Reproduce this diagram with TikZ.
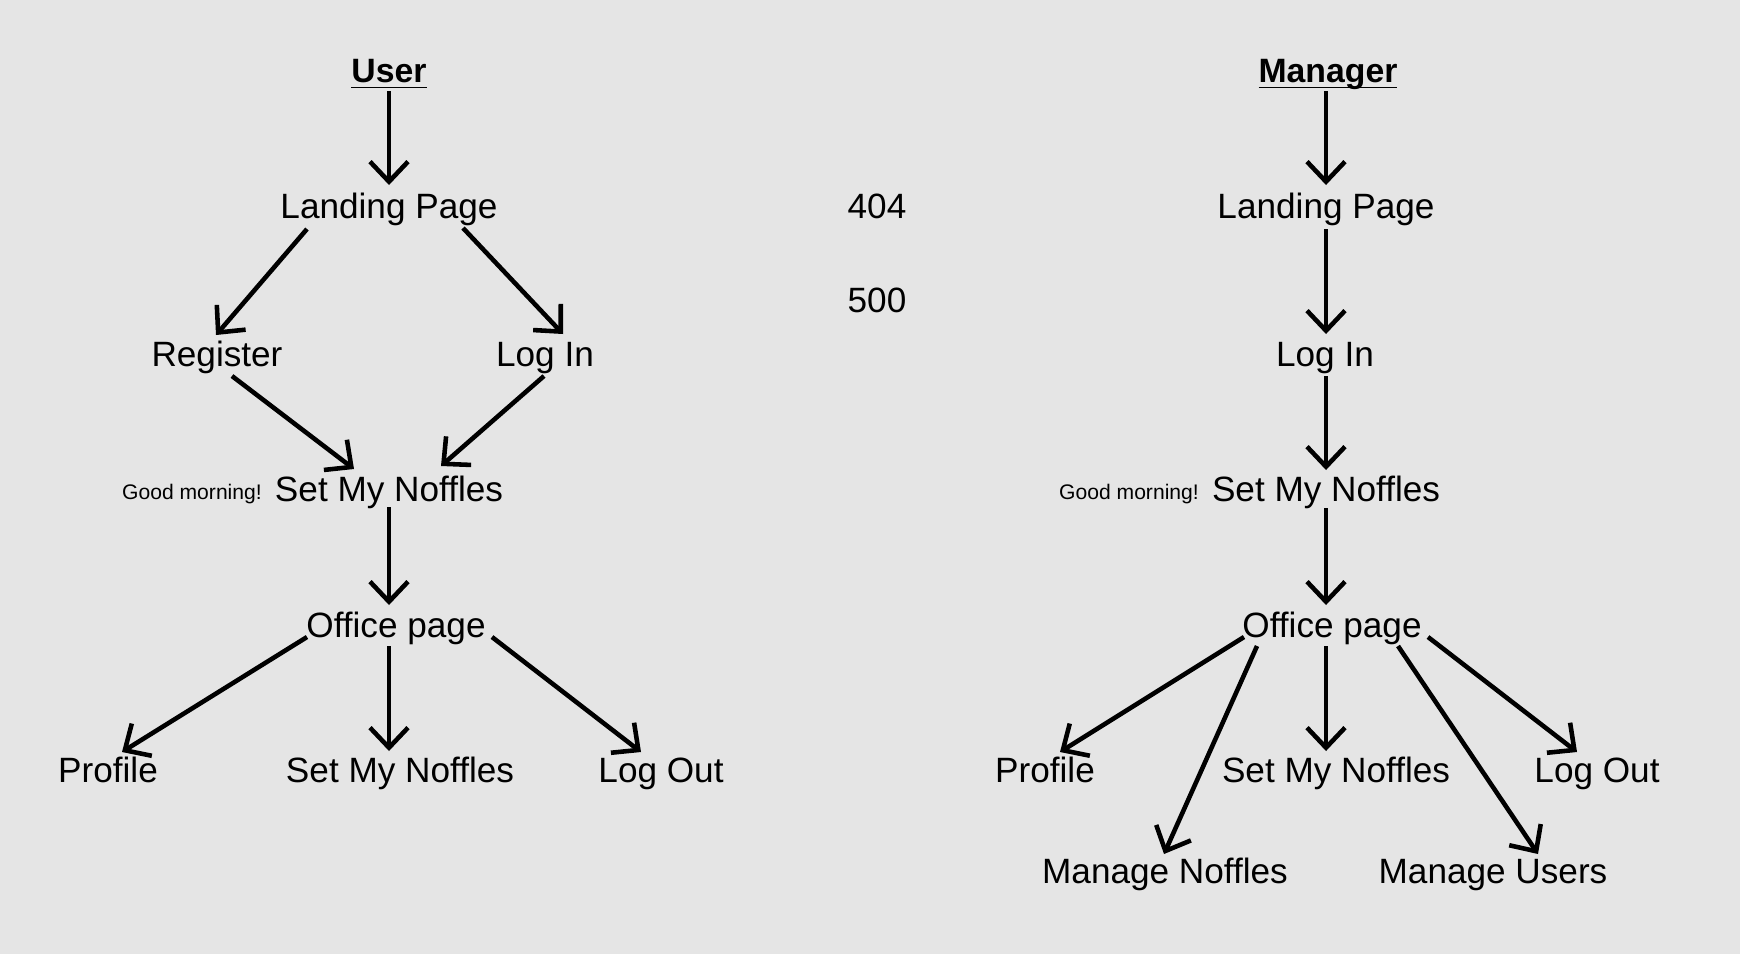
\documentclass[tikz,border=0pt]{standalone}
\usepackage{fontspec}
\setmainfont{Liberation Sans}
\usetikzlibrary{arrows.meta}
\begin{document}
\begin{tikzpicture}[
  x=0.01cm, y=-0.01cm,
  every node/.style={inner sep=0pt, text height=7.2pt, text depth=0pt, font=\fontsize{10}{12}\selectfont},
  head/.style={font=\fontsize{9.6}{12}\selectfont\bfseries},
  small/.style={font=\fontsize{6}{7}\selectfont, text height=4.3pt},
  arr/.style={line width=1.3pt, -{Straight Barb[length=5.7pt, width=10.8pt]}}
]
\fill[black!10] (0,0) rectangle (1740,954);

% user side
\node[head] (uuser) at (389,70) {\underline{\smash{User}}};
\node (ulp) at (389,206) {Landing Page};
\node (ureg) at (217,354) {Register};
\node (ulog) at (545,354) {Log In};
\node (uset) at (389,489) {Set My Noffles};
\node[small] (ugm) at (192,492) {Good morning!};
\node (uoff) at (396,625) {Office page};
\node (uprof) at (108,770) {Profile};
\node (uset2) at (400,770) {Set My Noffles};
\node (uout) at (661,770) {Log Out};

% error pages
\node (e404) at (877,206) {404};
\node (e500) at (877,300) {500};

% manager side
\node[head] (muser) at (1328,70) {\underline{\smash{Manager}}};
\node (mlp) at (1326,206) {Landing Page};
\node (mlog) at (1325,354) {Log In};
\node (mset) at (1326,489) {Set My Noffles};
\node[small] (mgm) at (1129,492) {Good morning!};
\node (moff) at (1332,625) {Office page};
\node (mprof) at (1045,770) {Profile};
\node (mset2) at (1336,770) {Set My Noffles};
\node (mout) at (1597,770) {Log Out};
\node (mmn) at (1165,871) {Manage Noffles};
\node (mmu) at (1493,871) {Manage Users};

% user arrows
\draw[arr] ([shift={(0,21)}]uuser.center) -- ([shift={(0,-21)}]ulp.center);
\draw[arr] ([shift={(-82,23)}]ulp.center) -- ([shift={(-1,-19)}]ureg.center);
\draw[arr] ([shift={(74,22)}]ulp.center) -- ([shift={(18,-20)}]ulog.center);
\draw[arr] ([shift={(15,22)}]ureg.center) -- ([shift={(-35,-20)}]uset.center);
\draw[arr] ([shift={(-1,22)}]ulog.center) -- ([shift={(52,-23)}]uset.center);
\draw[arr] ([shift={(0,18)}]uset.center) -- ([shift={(-7,-20)}]uoff.center);
\draw[arr] ([shift={(-89,12)}]uoff.center) -- ([shift={(14,-18)}]uprof.center);
\draw[arr] ([shift={(-7,21)}]uoff.center) -- ([shift={(-11,-19)}]uset2.center);
\draw[arr] ([shift={(96,12)}]uoff.center) -- ([shift={(-20,-18)}]uout.center);

% manager arrows
\draw[arr] ([shift={(-2,21)}]muser.center) -- ([shift={(0,-21)}]mlp.center);
\draw[arr] ([shift={(0,23)}]mlp.center) -- ([shift={(1,-20)}]mlog.center);
\draw[arr] ([shift={(1,22)}]mlog.center) -- ([shift={(0,-19)}]mset.center);
\draw[arr] ([shift={(0,19)}]mset.center) -- ([shift={(-6,-20)}]moff.center);
\draw[arr] ([shift={(-88,12)}]moff.center) -- ([shift={(15,-18)}]mprof.center);
\draw[arr] ([shift={(-75,21)}]moff.center) -- ([shift={(-1,-17)}]mmn.center);
\draw[arr] ([shift={(-6,21)}]moff.center) -- ([shift={(-10,-19)}]mset2.center);
\draw[arr] ([shift={(66,21)}]moff.center) -- ([shift={(45,-17)}]mmu.center);
\draw[arr] ([shift={(96,12)}]moff.center) -- ([shift={(-20,-18)}]mout.center);
\end{tikzpicture}
\end{document}
